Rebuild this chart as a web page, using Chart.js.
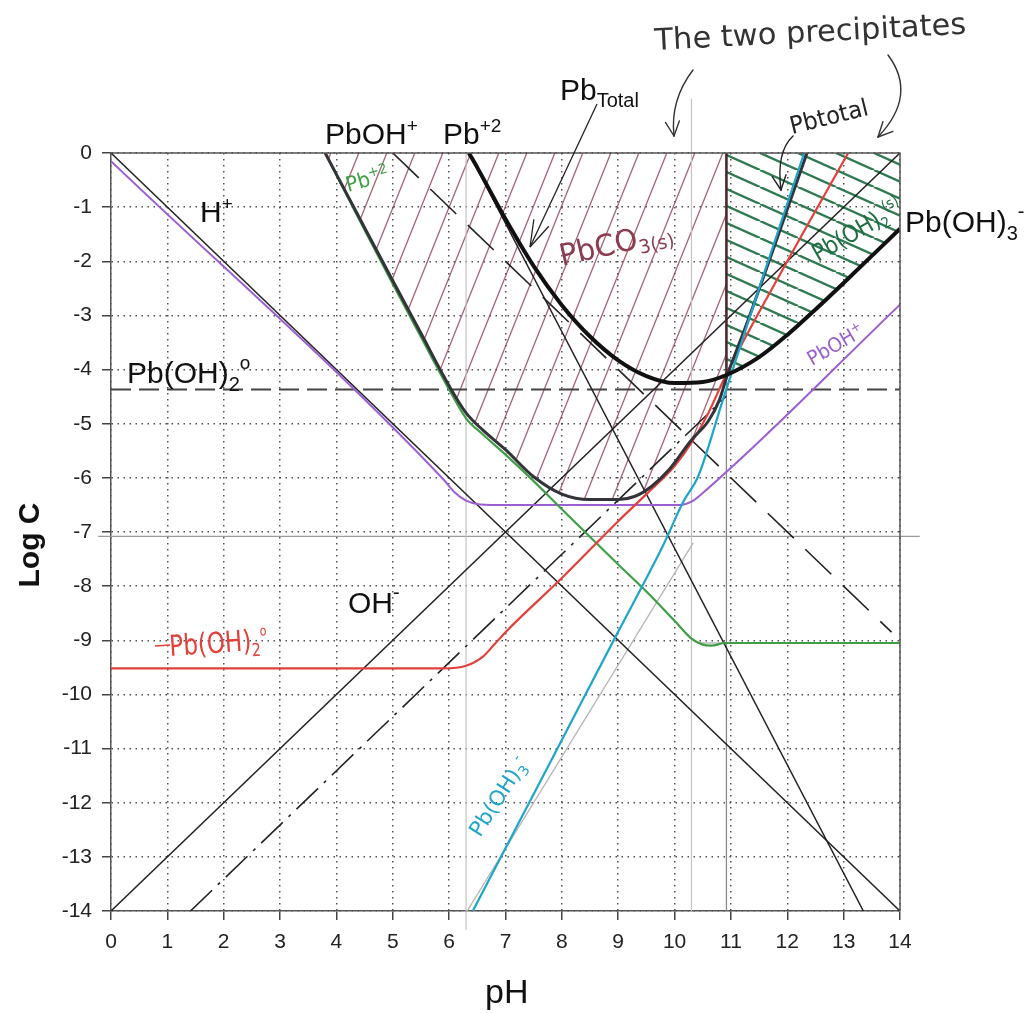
<!DOCTYPE html>
<html><head><meta charset="utf-8">
<script src="https://cdn.jsdelivr.net/npm/chart.js@4.4.0/dist/chart.umd.min.js"></script>
<style>html,body{margin:0;padding:0;background:#fff;}#wrap{width:1028px;height:1013px;}</style>
</head><body><div id="wrap"><canvas id="c" width="1028" height="1013"></canvas></div>
<script>
// ---- tick labels ----
const xTicks = [0,1,2,3,4,5,6,7,8,9,10,11,12,13,14];
const yTicks = [0,-1,-2,-3,-4,-5,-6,-7,-8,-9,-10,-11,-12,-13,-14];

// ---- series: [pH, logC] ----
const hPlus = [[0,0],[14,-14]];
const ohMinus = [[0,-14],[14,0]];
const pb2Hydroxide = [[6.35,0],[13.35,-14]];
const pbOHHydroxide = [[5,0],[13.85,-8.85]];
const pbOH3Hydroxide = [[1.41,-14],[10.92,-4.49]];
const pbOH2Neutral = [[0,-4.37],[14,-4.37]];
const pbTotalHydroxide = [[6.35,0],[6.5,-0.27],[7,-1.22],[7.5,-2.09],[8,-2.81],[8.5,-3.39],[9,-3.83],[9.5,-4.12],[10,-4.25],[10.5,-4.23],[10.92,-4.1],[11.5,-3.77],[12,-3.36],[12.5,-2.89],[13,-2.4],[13.5,-1.9],[14,-1.4]];
const pb2Carbonate = [[3.8,0],[4.5,-1.42],[5,-2.42],[5.5,-3.4],[6,-4.37],[6.3,-4.9],[6.6,-5.2],[7,-5.57],[7.5,-6.06],[8,-6.58],[9,-7.6],[9.5,-8.1],[10,-8.64],[10.3,-8.97],[10.5,-9.08],[10.65,-9.1],[10.9,-9.05],[14,-9.05]];
const pbOHCarbonate = [[0,-0.15],[5.9,-6.03],[6.1,-6.27],[6.3,-6.42],[6.55,-6.49],[7,-6.5],[10.1,-6.5],[10.3,-6.44],[10.5,-6.28],[14,-2.8]];
const pbOH2Carbonate = [[0,-9.52],[5.9,-9.52],[6.3,-9.47],[6.6,-9.3],[6.8,-9.08],[7,-8.85],[8,-7.85],[9,-6.8],[9.5,-6.3],[10,-5.78],[10.3,-5.35],[10.6,-4.8],[10.92,-4.08],[12,-2.0],[13.08,0]];
const pbOH3Carbonate = [[6.42,-14],[8,-10.84],[9,-8.84],[9.8,-7.24],[10.15,-6.45],[10.42,-5.97],[10.86,-4.55],[11.5,-2.5],[12.3,0]];
const pbTotalCarbonate = [[3.8,0],[4.5,-1.38],[5,-2.36],[5.5,-3.33],[6,-4.3],[6.3,-4.8],[6.6,-5.12],[7,-5.48],[7.5,-5.98],[8,-6.3],[8.5,-6.4],[9,-6.4],[9.3,-6.34],[9.6,-6.15],[9.9,-5.85],[10.3,-5.3],[10.6,-4.95],[10.8,-4.55],[10.92,-4.15],[11.3,-3.1],[12.35,0]];
const greyTrace = [[6.32,-14],[10.33,-7.2]];
const boundaryUpper = [[10.92,0],[10.92,-4.12]];
const boundaryLower = [[10.92,-4.12],[10.92,-14]];
const pka2Line = [[10.3,1],[10.3,-14]];
const pka1Line = [[6.3,0],[6.3,-14.35]];
const bleedLine7 = [[-0.23,-7.08],[14.35,-7.08]];
const bleedLine9 = [[10.4,-9.05],[14.1,-9.05]];

// ---- hatch patterns ----
function makeHatch(w,h,color,lw,up){
  const c=document.createElement('canvas'); c.width=w; c.height=h;
  const g=c.getContext('2d'); g.strokeStyle=color; g.lineWidth=lw;
  for(let k=-1;k<=1;k++){ g.beginPath();
    if(up){ g.moveTo(k*w,h); g.lineTo(k*w+w,0);} else { g.moveTo(k*w,0); g.lineTo(k*w+w,h);} g.stroke(); }
  return g.createPattern(c,'repeat');
}
const maroonHatch = makeHatch(28,70,'rgba(140,60,80,0.8)',1.3,true);
const greenHatch = makeHatch(38,17,'#2f7a52',2.4,false);

const P = a => a.map(p=>({x:p[0],y:p[1]}));
function ds(pts,o){ return Object.assign({data:P(pts),borderColor:'#222',borderWidth:1.5,pointRadius:0,pointHoverRadius:0,fill:false,tension:0},o); }
const curve = {cubicInterpolationMode:'monotone'};

const datasets = [
  ds(pbTotalCarbonate.filter(p=>p[0]<=10.92),Object.assign({borderWidth:0,borderColor:'rgba(0,0,0,0)',fill:{value:0},backgroundColor:maroonHatch,order:100},curve)),
  ds(pbTotalHydroxide.filter(p=>p[0]>=10.92),Object.assign({borderWidth:0,borderColor:'rgba(0,0,0,0)',fill:{value:0},backgroundColor:greenHatch,order:99},curve)),
  ds(bleedLine7,{borderColor:'#9a9a9a',borderWidth:1.2,clip:false,order:90}),
  ds(bleedLine9,{borderColor:'#9a9a9a',borderWidth:1.2,order:90}),
  ds(pka2Line,{borderColor:'#c4c4c4',borderWidth:1.2,clip:false,order:89}),
  ds(pka1Line,{borderColor:'#c4c4c4',borderWidth:1.2,clip:false,order:89}),
  ds(boundaryLower,{borderColor:'#8a8a8a',borderWidth:1.3,order:88}),
  ds(greyTrace,{borderColor:'#b5b5b5',borderWidth:1.3,order:87}),
  ds(pbOH2Neutral,{borderColor:'#444',borderWidth:2,borderDash:[20,8],order:60}),
  ds(hPlus,{order:50}),
  ds(ohMinus,{order:50}),
  ds(pb2Hydroxide,{order:50}),
  ds(pbOHHydroxide,{borderDash:[36,16],borderWidth:1.6,order:50}),
  ds(pbOH3Hydroxide,{borderDash:[30,8,3,8],borderWidth:1.6,order:50}),
  ds(pbOHCarbonate,Object.assign({borderColor:'#9b5fd2',borderWidth:2,order:40},curve)),
  ds(pb2Carbonate,Object.assign({borderColor:'#3f9e46',borderWidth:2.2,order:39},curve)),
  ds(pbOH2Carbonate,Object.assign({borderColor:'#e2403a',borderWidth:2.2,order:38},curve)),
  ds(pbTotalCarbonate,Object.assign({borderColor:'#33333a',borderWidth:3,order:37},curve)),
  ds(pbOH3Carbonate,Object.assign({borderColor:'#1ea5c9',borderWidth:2.2,order:36},curve)),
  ds(boundaryUpper,{borderColor:'#4a2a2e',borderWidth:2.6,order:35}),
  ds(pbTotalHydroxide,Object.assign({borderColor:'#111',borderWidth:4,order:30},curve))
];

const TF = '"Liberation Sans", Arial, sans-serif';
const HW = '"DejaVu Sans Condensed","DejaVu Sans",sans-serif';

function runs(ctx,x,y,ang,parts,color,width){
  ctx.save(); ctx.translate(x,y); ctx.rotate(ang*Math.PI/180); ctx.fillStyle=color; ctx.textBaseline='alphabetic'; ctx.textAlign='left';
  let total=0; parts.forEach(p=>{ctx.font=p.f; total+=ctx.measureText(p.t).width;});
  if(width) ctx.scale(width/total,1);
  let cx=0; parts.forEach(p=>{ctx.font=p.f; ctx.fillText(p.t,cx,p.dy||0); cx+=ctx.measureText(p.t).width;});
  ctx.restore();
}
function head(ctx,tx,ty,fx,fy,len,spread){
  const a=Math.atan2(fy-ty,fx-tx);
  [a-spread,a+spread].forEach(b=>{ctx.beginPath();ctx.moveTo(tx,ty);ctx.lineTo(tx+len*Math.cos(b),ty+len*Math.sin(b));ctx.stroke();});
}
function curveArrow(ctx,x0,y0,cx,cy,x1,y1,color,lw){
  ctx.save(); ctx.strokeStyle=color; ctx.lineWidth=lw; ctx.lineCap='round';
  ctx.beginPath(); ctx.moveTo(x0,y0); ctx.quadraticCurveTo(cx,cy,x1,y1); ctx.stroke();
  head(ctx,x1,y1,cx,cy,16,0.45); ctx.restore();
}

const deco = {
  id:'deco',
  beforeDraw(chart){ const c=chart.ctx; c.save(); c.fillStyle='#fff'; c.fillRect(0,0,chart.width,chart.height); c.restore(); },
  afterDraw(chart){
    const ctx=chart.ctx, a=chart.chartArea;
    ctx.save();
    ctx.strokeStyle='#555'; ctx.lineWidth=1.5; ctx.setLineDash([]);
    ctx.beginPath(); ctx.moveTo(a.left,a.top); ctx.lineTo(a.right,a.top); ctx.lineTo(a.right,a.bottom); ctx.stroke();
    // axis titles
    ctx.fillStyle='#111'; ctx.font='34px '+TF; ctx.textAlign='left'; ctx.fillText('pH',485,1003);
    ctx.save(); ctx.translate(39,545); ctx.rotate(-Math.PI/2); ctx.font='bold 30px '+TF; ctx.textAlign='center'; ctx.fillText('Log C',0,0); ctx.restore();
    // typeset labels
    const big='30px '+TF, sm='19px '+TF;
    runs(ctx,200,222,0,[{t:'H',f:big},{t:'+',f:sm,dy:-12}],'#111');
    runs(ctx,325,144,0,[{t:'PbOH',f:big},{t:'+',f:sm,dy:-12}],'#111');
    runs(ctx,443,144,0,[{t:'Pb',f:big},{t:'+2',f:sm,dy:-12}],'#111');
    runs(ctx,560,100,0,[{t:'Pb',f:big},{t:'Total',f:'20px '+TF,dy:7}],'#111');
    runs(ctx,905,232,0,[{t:'Pb(OH)',f:big},{t:'3',f:'20px '+TF,dy:8},{t:'-',f:'20px '+TF,dy:-14}],'#111');
    runs(ctx,127,383,0,[{t:'Pb(OH)',f:big},{t:'2',f:'20px '+TF,dy:8},{t:'o',f:sm,dy:-14}],'#111');
    runs(ctx,348,613,0,[{t:'OH',f:big},{t:'-',f:'20px '+TF,dy:-14}],'#111');
    // PbTotal leader
    ctx.strokeStyle='#222'; ctx.lineWidth=1.3;
    ctx.beginPath(); ctx.moveTo(597,104); ctx.lineTo(530,247); ctx.stroke();
    head(ctx,530,247,597,104,28,0.3);
    // handwritten notes
    runs(ctx,655,50,-3,[{t:'The two precipitates',f:'30px '+HW}],'#333',312);
    curveArrow(ctx,693,70,670,100,674,136,'#333',1.4);
    curveArrow(ctx,888,55,918,95,878,137,'#333',1.4);
    runs(ctx,792,134,-14,[{t:'Pbtotal',f:'24px '+HW}],'#222',80);
    curveArrow(ctx,793,136,776,152,781,190,'#222',1.4);
    runs(ctx,348,192,-16,[{t:'Pb',f:'21px '+HW},{t:'+2',f:'14px '+HW,dy:-8}],'#3f9e46',44);
    runs(ctx,562,266,-13,[{t:'PbCO',f:'30px '+HW},{t:'3(s)',f:'19px '+HW,dy:6}],'#8c3c50',115);
    runs(ctx,818,262,-30,[{t:'Pb(OH)',f:'24px '+HW},{t:'2',f:'15px '+HW,dy:5},{t:'(s)',f:'15px '+HW,dy:-10}],'#1f6e40',100);
    runs(ctx,812,366,-30,[{t:'PbOH',f:'20px '+HW},{t:'+',f:'13px '+HW,dy:-8}],'#9b5fd2',62);
    runs(ctx,170,656,-4,[{t:'Pb(OH)',f:'29px '+HW},{t:'2',f:'18px '+HW,dy:6},{t:'o',f:'14px '+HW,dy:-14}],'#e2403a',98);
    ctx.strokeStyle='#e2403a'; ctx.lineWidth=1.5; ctx.beginPath(); ctx.moveTo(155,646); ctx.lineTo(170,645); ctx.stroke();
    runs(ctx,480,838,-57,[{t:'Pb(OH)',f:'21px '+HW},{t:'3',f:'14px '+HW,dy:5},{t:'-',f:'14px '+HW,dy:-9}],'#1ea5c9',90);
    ctx.restore();
  }
};

Chart.defaults.font.family = TF;
new Chart(document.getElementById('c'),{
  type:'line',
  data:{datasets},
  plugins:[deco],
  options:{
    responsive:false, animation:false, devicePixelRatio:1,
    layout:{padding:{top:153,right:128,bottom:0,left:0}},
    plugins:{legend:{display:false},tooltip:{enabled:false}},
    events:[],
    scales:{
      x:{type:'linear',min:0,max:14,
        afterBuildTicks:s=>{s.ticks=xTicks.map(v=>({value:v}));},
        afterFit:s=>{s.height=102;},
        ticks:{autoSkip:false,maxRotation:0,padding:10,color:'#222',font:{size:21,family:TF}},
        grid:{color:'rgba(50,50,50,0.85)',lineWidth:1.5,tickLength:9,tickColor:'#444',tickWidth:1.5},
        border:{display:true,color:'#555',width:1.5,dash:[1.5,4.5]}},
      y:{type:'linear',min:-14,max:0,
        afterBuildTicks:s=>{s.ticks=yTicks.map(v=>({value:v}));},
        afterFit:s=>{s.width=111;},
        ticks:{autoSkip:false,padding:10,color:'#222',font:{size:21,family:TF}},
        grid:{color:'rgba(50,50,50,0.85)',lineWidth:1.5,tickLength:9,tickColor:'#444',tickWidth:1.5},
        border:{display:true,color:'#555',width:1.5,dash:[1.5,4.5]}}
    }
  }
});
</script></body></html>
